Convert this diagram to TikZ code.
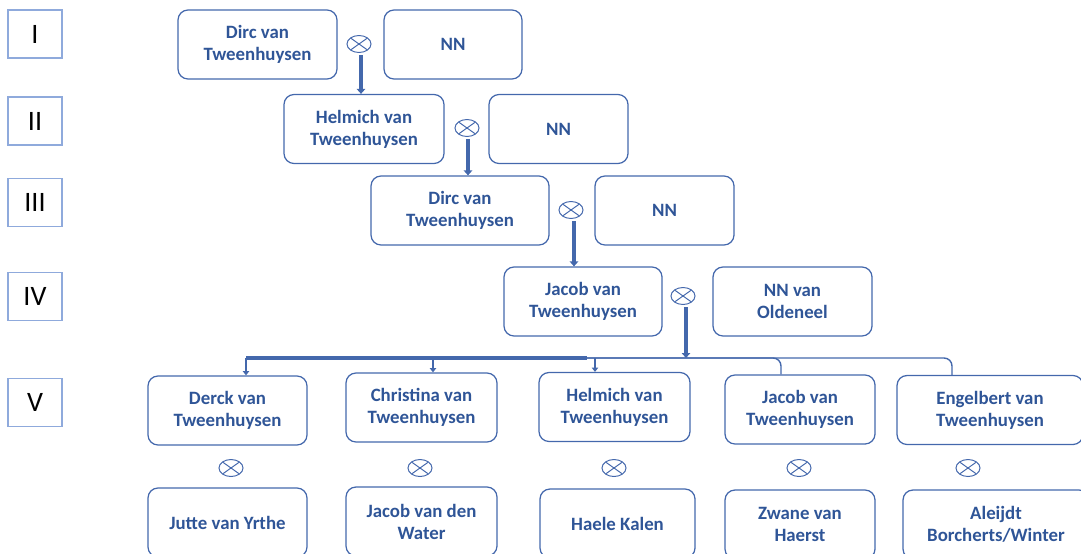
\documentclass[tikz,border=0pt]{standalone}
\usepackage{fontspec}
\setmainfont{Carlito}
\usetikzlibrary{positioning,arrows.meta,shapes.geometric,calc}

\definecolor{namec}{HTML}{2F5597}
\definecolor{linec}{HTML}{4468AC}
\definecolor{genc}{HTML}{8FAADC}

\tikzset{
  person/.style={draw=linec, line width=0.9pt, rounded corners=2.5mm, align=center,
    text=namec, font=\bfseries\fontsize{13.4}{15.6}\selectfont,
    minimum height=17.25mm, inner sep=2pt},
  gen/.style={draw=genc, line width=1pt, minimum width=13.5mm, minimum height=12mm,
    font=\fontsize{20}{24}\selectfont},
  wed/.style={ellipse, draw=linec, line width=0.7pt, minimum width=6mm,
    minimum height=4.25mm, inner sep=0pt,
    path picture={
      \draw[linec, line width=0.7pt]
        ($(path picture bounding box.center)!0.707!(path picture bounding box.north east)$) --
        ($(path picture bounding box.center)!0.707!(path picture bounding box.south west)$)
        ($(path picture bounding box.center)!0.707!(path picture bounding box.north west)$) --
        ($(path picture bounding box.center)!0.707!(path picture bounding box.south east)$);
    }},
  descent/.style={linec, line width=2.2pt, -{Triangle[width=6pt,length=3.5pt]}},
  branch/.style={linec, line width=1pt, -{Triangle[width=4.5pt,length=3pt]}}
}

\begin{document}
\begin{tikzpicture}[x=0.25mm, y=-0.25mm]
  \clip (0,0) rectangle (1081,554);

  % generations on the left
  \foreach \g/\y in {I/34, II/121, III/202.5, IV/296.5, V/402.5} {
    \node[gen] (gen\g) at (35,\y) {\g};
  }

  % generation I to IV
  \node[person, minimum width=39.75mm] (dirc1) at (257.5,44.5) {Dirc van\\Tweenhuysen};
  \node[person, minimum width=34.5mm] (nn1) at (453,44.5) {NN};
  \node[wed] (w1) at (359,44) {};

  \node[person, minimum width=40mm] (helmich2) at (364,129) {Helmich van\\Tweenhuysen};
  \node[person, minimum width=34.75mm] (nn2) at (558.5,129) {NN};
  \node[wed] (w2) at (467,128) {};

  \node[person, minimum width=44.5mm] (dirc3) at (460,210.5) {Dirc van\\Tweenhuysen};
  \node[person, minimum width=34.75mm] (nn3) at (664.5,210.5) {NN};
  \node[wed] (w3) at (571,210) {};

  \node[person, minimum width=39.5mm] (jacob4) at (583,301.5) {Jacob van\\Tweenhuysen};
  \node[person, minimum width=39.75mm] (nn4) at (792.5,301.5) {NN van\\Oldeneel};
  \node[wed] (w4) at (683,296) {};

  % generation V
  \node[person, minimum width=39.75mm] (derck5) at (227.5,410.5) {Derck van\\Tweenhuysen};
  \node[person, minimum width=37.75mm] (christina5) at (421.5,407.5) {Christina van\\Tweenhuysen};
  \node[person, minimum width=37.75mm] (helmich5) at (614.5,407) {Helmich van\\Tweenhuysen};
  \node[person, minimum width=37.5mm] (jacob5) at (800,409.5) {Jacob van\\Tweenhuysen};
  \node[person, minimum width=46.5mm] (engelbert5) at (990,410) {Engelbert van\\Tweenhuysen};

  \foreach \i/\x in {1/231, 2/420, 3/614, 4/799, 5/968} {
    \node[wed] (m\i) at (\x,468) {};
  }

  % spouses
  \node[person, minimum width=39.75mm] (jutte) at (227.5,522.5) {Jutte van Yrthe};
  \node[person, minimum width=37.75mm] (water) at (421.5,521.5) {Jacob van den\\Water};
  \node[person, minimum width=38.75mm] (haele) at (617.5,523.5) {Haele Kalen};
  \node[person, minimum width=37.5mm] (zwane) at (800,524.5) {Zwane van\\Haerst};
  \node[person, minimum width=46.5mm] (aleijdt) at (996,524.5) {Aleijdt\\Borcherts/Winter};

  % line of descent
  \draw[descent] ([xshift=0.5mm, yshift=-0.6mm]w1.south) -- ([xshift=0.5mm]w1.south |- helmich2.north);
  \draw[descent] ([xshift=0.25mm, yshift=-0.6mm]w2.south) -- ([xshift=0.25mm]w2.south |- dirc3.north);
  \draw[descent] ([xshift=0.75mm, yshift=-0.6mm]w3.south) -- ([xshift=0.75mm]w3.south |- jacob4.north);

  % children of Jacob
  \coordinate (t1) at (246,358);
  \coordinate (t2) at (433,358);
  \coordinate (t3) at (595,358);
  \coordinate (t4) at (781,358);
  \coordinate (t5) at (952,358);
  \coordinate (busm) at (587,358);
  \draw[descent] ([xshift=0.75mm, yshift=-0.6mm]w4.south) -- ([xshift=0.75mm]w4.south |- t1);
  \draw[linec, line width=2.2pt] (t1) -- (busm);
  \draw[linec, line width=1pt, rounded corners=2mm] (busm) -- (t4) -- (t4 |- jacob5.north);
  \draw[linec, line width=1pt, rounded corners=2mm] (busm) -- (t5) -- (t5 |- engelbert5.north);
  \draw[branch] (t1) -- (t1 |- derck5.north);
  \draw[branch] (t2) -- (t2 |- christina5.north);
  \draw[branch] (t3) -- (t3 |- helmich5.north);
\end{tikzpicture}
\end{document}
